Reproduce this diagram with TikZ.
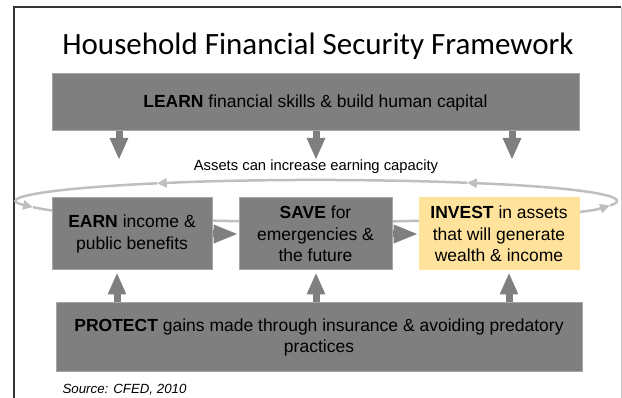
\documentclass[tikz,border=0pt]{standalone}
\usepackage{fontspec}
\setmainfont{Liberation Sans}
\newfontfamily\titlefont{Carlito}
\usepackage{tikz}
\usetikzlibrary{arrows.meta}
\usetikzlibrary{calc}

\definecolor{boxgray}{HTML}{7F7F7F}
\definecolor{boxedge}{HTML}{A6A6A6}
\definecolor{loopgray}{HTML}{BFBFBF}
\definecolor{investfill}{HTML}{FFE29C}

\tikzset{
	stage/.style={draw=boxedge, line width=1pt, fill=boxgray, inner sep=0pt, align=center, font=\fontsize{17.5}{21.5}\selectfont},
	blockarrow/.style={draw=boxgray, line width=7pt, -{Triangle[length=22pt, width=17pt]}},
	loopline/.style={draw=loopgray, line width=2.5pt, -{Triangle[length=10pt, width=9pt]}}
}

\begin{document}
\begin{tikzpicture}[x=1pt, y=1pt]
		\useasboundingbox (0,0) rectangle (622,-398);
		\draw[black!80, line width=2.5pt] (14,-398) -- (14,-7) -- (621,-7);
		\draw[black!20, line width=1pt] (621,-7) -- (621,-398);

		\node[anchor=base] (title) at (318,-55) {\titlefont\fontsize{31}{36}\selectfont Household Financial Security Framework};

		% loop behind the middle row
		\coordinate (c) at (318.5,-201);
		\foreach \s/\e in {-12.4/60.2, 60.2/122.8, 122.8/197, 197/347.6}
			\draw[loopline] ($(c)+(\s:298.5 and 21)$) arc[start angle=\s, end angle=\e, x radius=298.5, y radius=21];
		\node (assets) at (316,-167) {\fontsize{14.8}{17}\selectfont Assets can increase earning capacity};

		\node[stage, minimum width=527pt, minimum height=57pt] (learn) at (315.5,-102.5) {\textbf{LEARN} financial skills \& build human capital};
		\node[stage, minimum width=160pt, minimum height=72pt] (earn) at (132,-234) {\textbf{EARN} income \&\\public benefits};
		\node[stage, minimum width=153pt, minimum height=72pt] (save) at (315.5,-234) {\textbf{SAVE} for\\emergencies \&\\the future};
		\node[stage, fill=investfill, draw=investfill, minimum width=160pt, minimum height=72pt] (invest) at (499,-234) {\textbf{INVEST} in assets\\that will generate\\wealth \& income};
		\node[stage, minimum width=526pt, minimum height=69pt] (protect) at (319,-337.5) {\textbf{PROTECT} gains made through insurance \& avoiding predatory\\practices};

		\foreach \x/\n in {119/d1, 316/d2, 512/d3}
			\coordinate (\n) at (\x,-160);
		\foreach \n in {d1,d2,d3}
			\draw[blockarrow] (learn.south -| \n) -- (\n);

		\foreach \x/\n in {117/u1, 316/u2, 509/u3}
			\coordinate (\n) at (\x,0);
		\draw[blockarrow, shorten >=2pt] (protect.north -| u1) -- (earn.south -| u1);
		\draw[blockarrow, shorten >=2pt] (protect.north -| u2) -- (save.south -| u2);
		\draw[blockarrow, shorten >=2pt] (protect.north -| u3) -- (invest.south -| u3);

		\draw[blockarrow, -{Triangle[length=25pt, width=17pt]}] (earn) -- (save);
		\draw[blockarrow, -{Triangle[length=25pt, width=17pt]}] (save) -- (invest);

		\node[anchor=base west, font=\itshape\fontsize{13.3}{16}\selectfont] (source) at (59,-394) {Source: CFED, 2010};
%		\node at (318,-20) {};
	\end{tikzpicture}
\end{document}
